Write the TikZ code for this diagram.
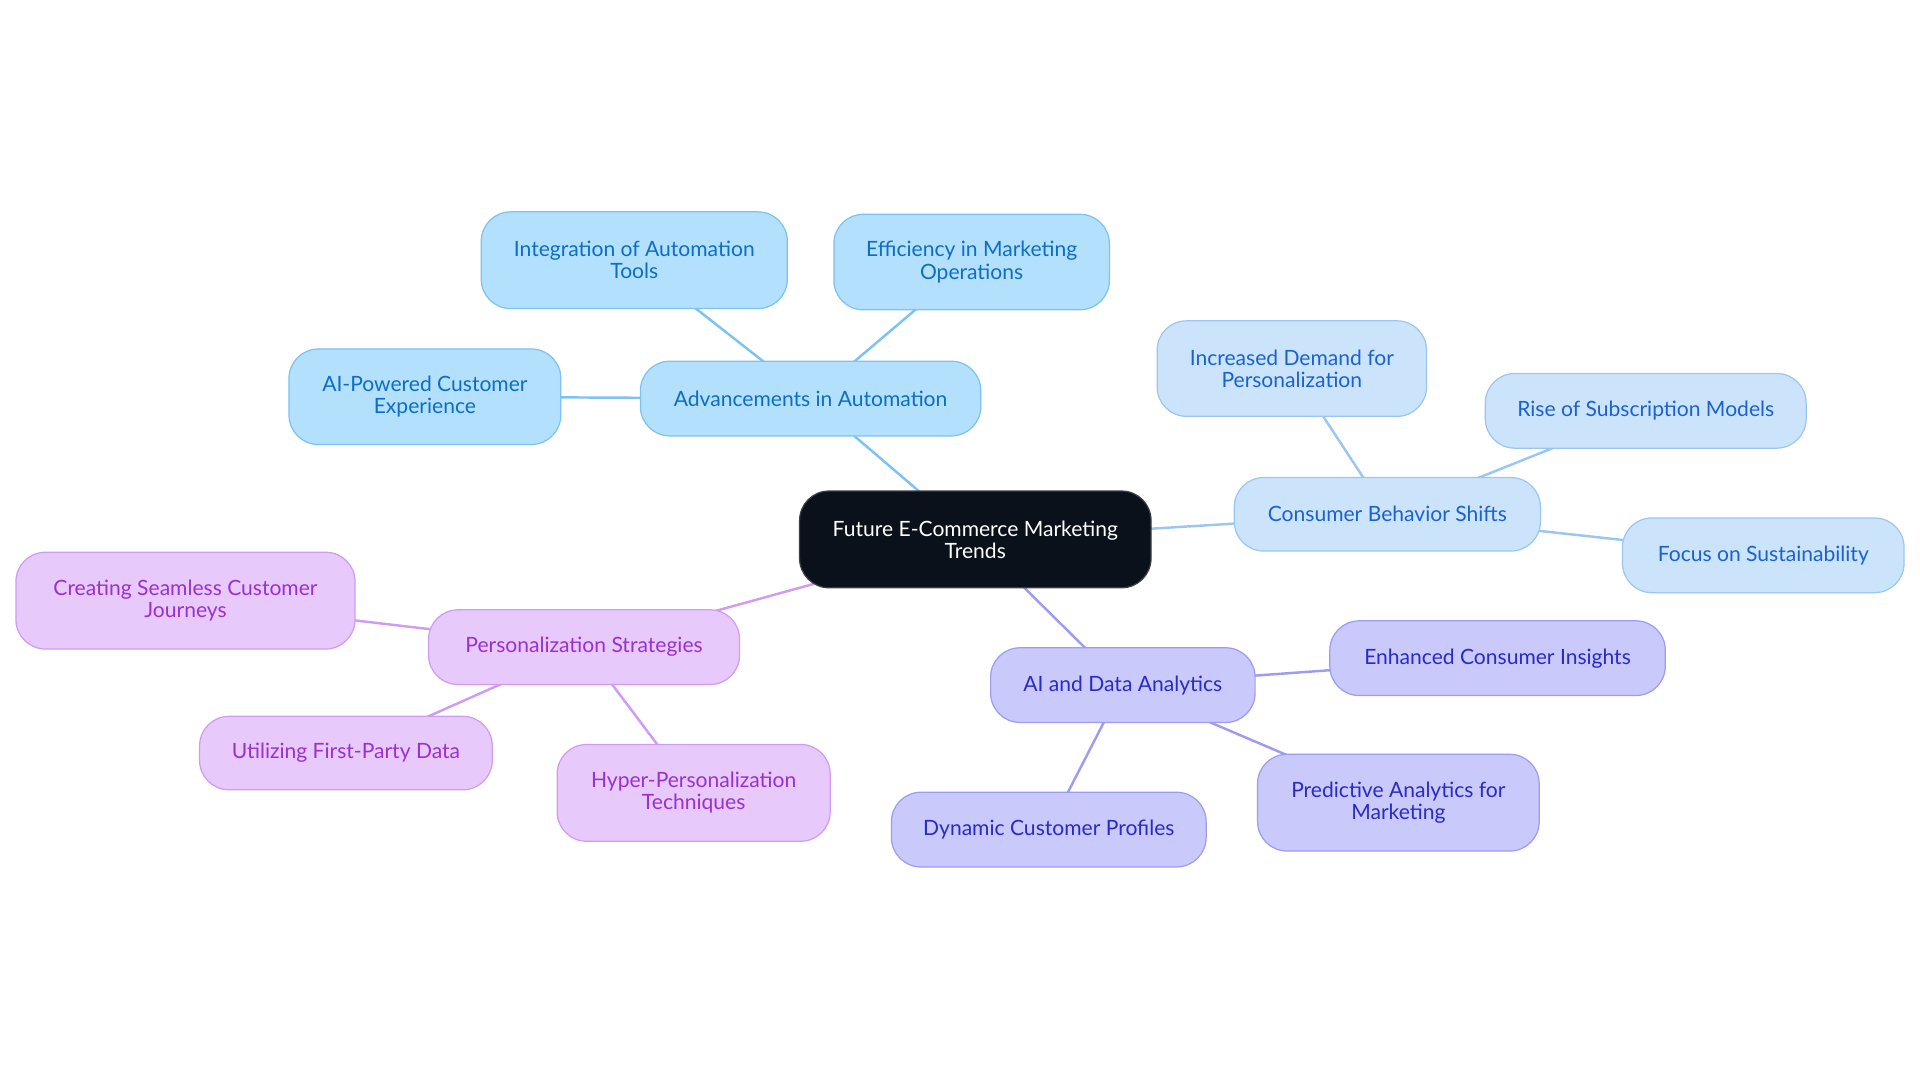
\documentclass[tikz,border=0pt]{standalone}
\usepackage{fontspec}
\setmainfont{Lato}
\definecolor{cdark}{HTML}{0B111B}
\definecolor{cdarkb}{HTML}{3A3F47}
\definecolor{aFill}{HTML}{B3E0FD}
\definecolor{aBord}{HTML}{7DC2F0}
\definecolor{aText}{HTML}{0E6EC4}
\definecolor{bFill}{HTML}{CCE4FB}
\definecolor{bBord}{HTML}{9CC6F2}
\definecolor{bText}{HTML}{1A62D0}
\definecolor{cFill}{HTML}{C9C9FC}
\definecolor{cBord}{HTML}{9C9CF2}
\definecolor{cText}{HTML}{2A2AC8}
\definecolor{dFill}{HTML}{E8C9FC}
\definecolor{dBord}{HTML}{D09CF2}
\definecolor{dText}{HTML}{9A30D0}
\tikzset{
  box/.style={rectangle, rounded corners=24pt, inner sep=0pt, align=center,
    line width=1pt, font=\fontsize{17.2}{18}\selectfont},
  rootbox/.style={box, fill=cdark, draw=cdarkb, text=white},
  abox/.style={box, fill=aFill, draw=aBord, text=aText},
  bbox/.style={box, fill=bFill, draw=bBord, text=bText},
  cbox/.style={box, fill=cFill, draw=cBord, text=cText},
  dbox/.style={box, fill=dFill, draw=dBord, text=dText},
  sz/.style 2 args={minimum width=#1pt, minimum height=#2pt},
  aedge/.style={draw=aBord, line width=2pt},
  bedge/.style={draw=bBord, line width=2pt},
  cedge/.style={draw=cBord, line width=2pt},
  dedge/.style={draw=dBord, line width=2pt},
}
\begin{document}
\begin{tikzpicture}[x=1pt,y=-1pt]
\useasboundingbox (0,0) rectangle (1568,884.4);
% node positions (drawn later on top of the edges)
\coordinate (root) at (796.5,440.5);
\coordinate (auto) at (662,325.5);
\coordinate (integ) at (518,212.5);
\coordinate (eff) at (793.5,214);
\coordinate (aipow) at (347,324);
\coordinate (cons) at (1133,420);
\coordinate (incr) at (1055,301);
\coordinate (rise) at (1344,335.5);
\coordinate (focus) at (1440,453.5);
\coordinate (ai) at (917,559.5);
\coordinate (enh) at (1223,537.5);
\coordinate (pred) at (1142,655.5);
\coordinate (dyn) at (856.5,677.5);
\coordinate (pers) at (477,528.5);
\coordinate (creat) at (151.5,490.5);
\coordinate (util) at (282.5,615);
\coordinate (hyper) at (566.5,647.5);
% edges (centre to centre, hidden under the boxes)
\draw[aedge] (root) -- (auto);
\draw[aedge] (auto) -- (integ);
\draw[aedge] (auto) -- (eff);
\draw[aedge] (auto) -- (aipow);
\draw[bedge] (root) -- (cons);
\draw[bedge] (cons) -- (incr);
\draw[bedge] (cons) -- (rise);
\draw[bedge] (cons) -- (focus);
\draw[cedge] (root) -- (ai);
\draw[cedge] (ai) -- (enh);
\draw[cedge] (ai) -- (pred);
\draw[cedge] (ai) -- (dyn);
\draw[dedge] (root) -- (pers);
\draw[dedge] (pers) -- (creat);
\draw[dedge] (pers) -- (util);
\draw[dedge] (pers) -- (hyper);
% root
\node[rootbox, sz={287}{79}] (rootN) at (root) {Future E-Commerce Marketing\\Trends};
% automation branch
\node[abox, sz={278}{61}] (autoN) at (auto) {Advancements in Automation};
\node[abox, sz={250}{79}] (integN) at (integ) {Integration of Automation\\Tools};
\node[abox, sz={225}{78}] (effN) at (eff) {Efficiency in Marketing\\Operations};
\node[abox, sz={222}{78}] (aipowN) at (aipow) {AI-Powered Customer\\Experience};
% consumer branch
\node[bbox, sz={250}{60}] (consN) at (cons) {Consumer Behavior Shifts};
\node[bbox, sz={220}{78}] (incrN) at (incr) {Increased Demand for\\Personalization};
\node[bbox, sz={262}{61}] (riseN) at (rise) {Rise of Subscription Models};
\node[bbox, sz={230}{61}] (focusN) at (focus) {Focus on Sustainability};
% AI branch
\node[cbox, sz={216}{61}] (aiN) at (ai) {AI and Data Analytics};
\node[cbox, sz={274}{61}] (enhN) at (enh) {Enhanced Consumer Insights};
\node[cbox, sz={230}{79}] (predN) at (pred) {Predictive Analytics for\\Marketing};
\node[cbox, sz={257}{61}] (dynN) at (dyn) {Dynamic Customer Profiles};
% personalization branch
\node[dbox, sz={254}{61}] (persN) at (pers) {Personalization Strategies};
\node[dbox, sz={277}{79}] (creatN) at (creat) {Creating Seamless Customer\\Journeys};
\node[dbox, sz={239}{60}] (utilN) at (util) {Utilizing First-Party Data};
\node[dbox, sz={223}{79}] (hyperN) at (hyper) {Hyper-Personalization\\Techniques};
\end{tikzpicture}
\end{document}
